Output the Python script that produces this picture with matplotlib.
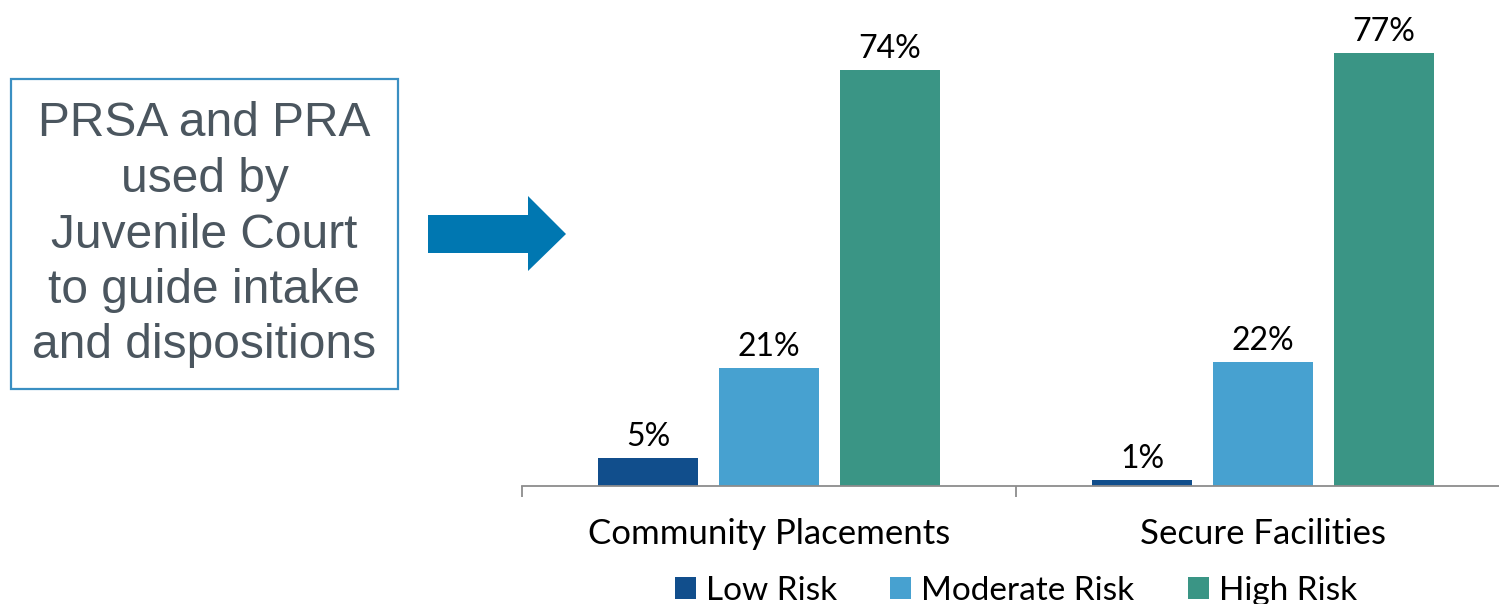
import matplotlib
matplotlib.use("Agg")
import matplotlib.pyplot as plt
import matplotlib.patches as mpatches
import numpy as np

categories = ["Community Placements", "Secure Facilities"]
series_names = ["Low Risk", "Moderate Risk", "High Risk"]
low_risk = [5, 1]
moderate_risk = [21, 22]
high_risk = [74, 77]
series_values = [low_risk, moderate_risk, high_risk]
series_colors = ["#114e8c", "#47a1d0", "#3a9585"]
callout_text = "PRSA and PRA\nused by\nJuvenile Court\nto guide intake\nand dispositions"

W, H, DPI = 1499, 604, 100
fig = plt.figure(figsize=(W / DPI, H / DPI), dpi=DPI)
fig.patch.set_facecolor("white")

label_font = "Lato"
px_per_unit = 5.62

# bar chart area (extends slightly past the right edge of the canvas)
ax_left, ax_right, ax_base = 522, 1510, 486
ax = fig.add_axes([ax_left / W, (H - ax_base) / H, (ax_right - ax_left) / W, ax_base / H])
ax.patch.set_visible(False)
ax.set_xlim(-0.5, len(categories) - 0.5)
ax.set_ylim(0, ax_base / px_per_unit)

x = np.arange(len(categories))
step = 0.245
width = 0.2024
bars = []
for i, (name, vals, col) in enumerate(zip(series_names, series_values, series_colors)):
    b = ax.bar(x + (i - 1) * step, vals, width, color=col, label=name, zorder=2)
    bars.append(b)
    for xi, v in zip(x + (i - 1) * step, vals):
        ax.text(xi, v + 12 / px_per_unit, f"{v}%", ha="center", va="baseline",
                fontsize=23, family=label_font, color="#000000")

for s in ["top", "right", "left"]:
    ax.spines[s].set_visible(False)
ax.spines["bottom"].set_color("#8c8c8c")
ax.spines["bottom"].set_linewidth(1.3)
ax.set_yticks([])
ax.set_xticks(np.arange(-0.5, len(categories)), minor=False)
ax.set_xticklabels([])
ax.tick_params(axis="x", length=8, width=1.3, color="#8c8c8c", direction="out")
for xi, c in zip(x, categories):
    ax.text(xi, -58 / px_per_unit, c, ha="center", va="baseline", fontsize=25,
            family=label_font, color="#000000", clip_on=False)

leg = fig.legend(handles=[b[0] for b in bars], labels=series_names, loc="center",
                 bbox_to_anchor=(1016 / W, 1 - 591 / H), ncol=3, frameon=False,
                 prop={"family": label_font, "size": 24}, handlelength=0.63,
                 handleheight=0.63, handletextpad=0.3, columnspacing=1.6,
                 borderaxespad=0, borderpad=0)

# overlay in pixel units for the callout box and arrow
ov = fig.add_axes([0, 0, 1, 1], zorder=-1)
ov.set_xlim(0, W)
ov.set_ylim(H, 0)
ov.axis("off")
ov.add_patch(mpatches.Rectangle((11, 79), 387, 310, fill=False,
                                edgecolor="#3a8fc2", linewidth=1.6))
ov.text(204.5, 235, callout_text, ha="center", va="center", multialignment="center",
        fontsize=34.5, family="Liberation Sans", color="#4b565f", linespacing=1.30)
arrow = mpatches.Polygon([(428, 215), (528, 215), (528, 196), (566, 234),
                          (528, 271), (528, 253), (428, 253)],
                         closed=True, facecolor="#0077b1", edgecolor="none")
ov.add_patch(arrow)

fig.savefig("out.png", dpi=DPI, facecolor="white")
